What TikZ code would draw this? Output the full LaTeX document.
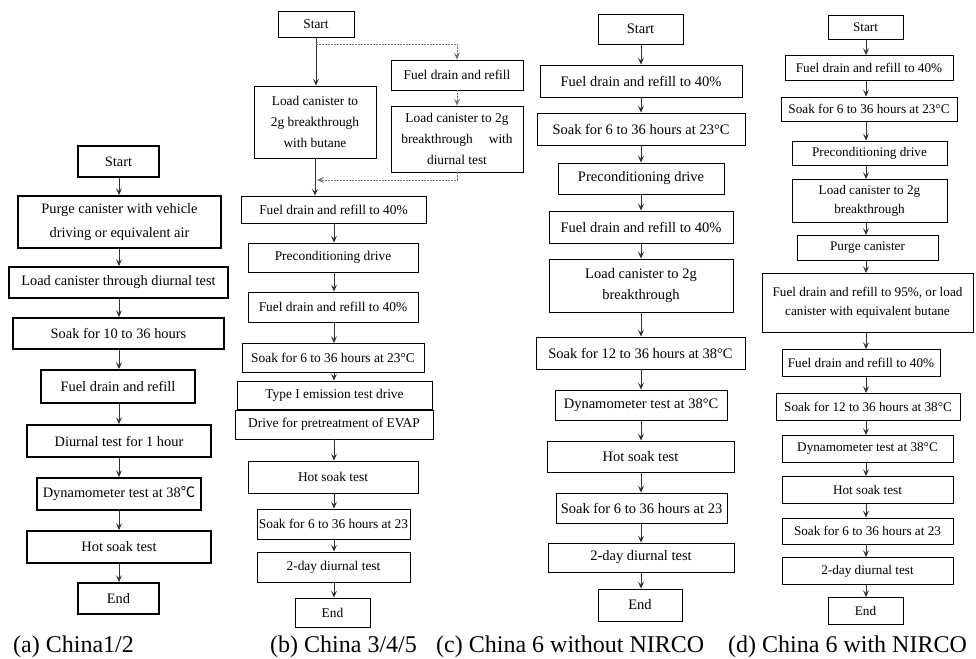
\documentclass[tikz,border=0pt]{standalone}
\usepackage{fontspec}
\setmainfont{Liberation Serif}
\newfontfamily\cjk{Noto Sans CJK SC}
\usetikzlibrary{arrows.meta}
\begin{document}
\begin{tikzpicture}[x=1pt,y=-1pt,
  box/.style={draw, line width=0.8pt, inner sep=0pt, align=center},
  thk/.style={line width=1.8pt},
  fa/.style={font=\fontsize{14.4}{24}\selectfont},
  fb/.style={font=\fontsize{13.4}{21}\selectfont},
  fc/.style={font=\fontsize{14.5}{21}\selectfont},
  fd/.style={font=\fontsize{13.2}{19.5}\selectfont},
  arr/.style={-{Stealth[length=7pt,width=6pt,inset=3pt]}, line width=0.8pt, draw=black!80},
  dsh/.style={-{Stealth[length=7pt,width=6pt,inset=3pt]}, dash pattern=on 2pt off 1pt, line width=0.8pt, draw=black!55},
  capt/.style={font=\fontsize{24}{28}\selectfont, anchor=base west, inner sep=0pt}
]
\useasboundingbox (0,0) rectangle (976,658);

% ---------- (a) ----------
\coordinate (ax) at (119,0);
\node[box,fa,thk,minimum width=81pt,minimum height=31pt] (aS) at (118.5,161.5) {Start};
\node[box,fa,thk,minimum width=203pt,minimum height=52pt] (a1) at (119.5,222) {Purge canister with vehicle\\driving or equivalent air};
\node[box,fa,thk,minimum width=219pt,minimum height=31pt] (a2) at (118.5,282.5) {Load canister through diurnal test};
\node[box,fa,thk,minimum width=211pt,minimum height=31pt] (a3) at (118.5,333.5) {Soak for 10 to 36 hours};
\node[box,fa,thk,minimum width=154pt,minimum height=33pt] (a4) at (118,386.5) {Fuel drain and refill};
\node[box,fa,thk,minimum width=184pt,minimum height=32pt] (a5) at (119,441) {Diurnal test for 1 hour};
\node[box,fa,thk,minimum width=164pt,minimum height=32pt] (a6) at (119,494) {Dynamometer test at 38{\cjk ℃}};
\node[box,fa,thk,minimum width=184pt,minimum height=32pt] (a7) at (119,547) {Hot soak test};
\node[box,fa,thk,minimum width=81pt,minimum height=31pt] (aE) at (118.5,598.5) {End};
\foreach \u/\v in {aS/a1,a1/a2,a2/a3,a3/a4,a4/a5,a5/a6,a6/a7,a7/aE}
  \draw[arr] (\u.south -| ax) -- (\v.north -| ax);

% ---------- (b) ----------
\coordinate (bx) at (334,0);
\node[box,fb,minimum width=76pt,minimum height=26pt] (bS) at (316,24) {Start};
\node[box,fb,minimum width=122pt,minimum height=72pt] (bL) at (315,122) {Load canister to\\2g breakthrough\\with butane};
\node[box,fb,minimum width=132pt,minimum height=30pt] (bR1) at (457,75) {Fuel drain and refill};
\node[box,fb,minimum width=132pt,minimum height=66pt] (bR2) at (457,139) {Load canister to 2g\\breakthrough\hspace{1.2em}with\\diurnal test};
\node[box,fb,minimum width=185pt,minimum height=27pt] (b1) at (333.5,209.5) {Fuel drain and refill to 40\%};
\node[box,fb,minimum width=170pt,minimum height=29pt] (b2) at (333,257.5) {Preconditioning drive};
\node[box,fb,minimum width=170pt,minimum height=30pt] (b3) at (333,307) {Fuel drain and refill to 40\%};
\node[box,fb,minimum width=182pt,minimum height=29pt] (b4) at (333,358) {Soak for 6 to 36 hours at 23°C};
\node[box,fb,minimum width=195pt,minimum height=28pt] (b5) at (334.5,395) {Type I emission test drive};
\node[box,fb,minimum width=198pt,minimum height=29pt] (b6) at (334,424.5) {Drive for pretreatment of EVAP};
\node[box,fb,minimum width=170pt,minimum height=32pt] (b7) at (333,477) {Hot soak test};
\node[box,fb,minimum width=153pt,minimum height=30pt] (b8) at (333.5,524) {Soak for 6 to 36 hours at 23};
\node[box,fb,minimum width=153pt,minimum height=30pt] (b9) at (333.5,567) {2-day diurnal test};
\node[box,fb,minimum width=75pt,minimum height=29pt] (bE) at (332.5,612.5) {End};
\draw[arr] (bS.south) -- (bS.south |- bL.north);
\draw[arr] (bL.south) -- (bL.south |- b1.north);
\foreach \u/\v in {b1/b2,b2/b3,b3/b4,b4/b5,b6/b7,b7/b8,b8/b9,b9/bE}
  \draw[arr] (\u.south -| bx) -- (\v.north -| bx);
\coordinate (dA) at (316,44);
\coordinate (dB) at (317,180);
\draw[dsh] (dA) -| (bR1.north);
\draw[dsh] (bR1.south) -- (bR2.north);
\draw[dsh] (bR2.south) |- (dB);

% ---------- (c) ----------
\coordinate (cx) at (641,0);
\node[box,fc,minimum width=85pt,minimum height=30pt] (cS) at (640.5,29) {Start};
\node[box,fc,minimum width=202pt,minimum height=32pt] (c1) at (641,81) {Fuel drain and refill to 40\%};
\node[box,fc,minimum width=208pt,minimum height=32pt] (c2) at (641,129) {Soak for 6 to 36 hours at 23°C};
\node[box,fc,minimum width=166pt,minimum height=31pt] (c3) at (641,178.5) {Preconditioning drive};
\node[box,fc,minimum width=184pt,minimum height=32pt] (c4) at (641,227) {Fuel drain and refill to 40\%};
\node[box,fc,minimum width=184pt,minimum height=53pt] (c5) at (641,285.5) {Load canister to 2g\\breakthrough};
\node[box,fc,minimum width=209pt,minimum height=32pt] (c6) at (640.5,353) {Soak for 12 to 36 hours at 38°C};
\node[box,fc,minimum width=172pt,minimum height=30pt] (c7) at (641,405) {Dynamometer test at 38°C};
\node[box,fc,minimum width=187pt,minimum height=31pt] (c8) at (640.5,456.5) {Hot soak test};
\node[box,fc,minimum width=171pt,minimum height=30pt] (c9) at (641.5,508) {Soak for 6 to 36 hours at 23};
\node[box,fc,minimum width=186pt,minimum height=29pt] (c10) at (641,557.5) {2-day diurnal test};
\node[box,fc,minimum width=84pt,minimum height=32pt] (cE) at (640,605) {End};
\foreach \u/\v in {cS/c1,c1/c2,c2/c3,c3/c4,c4/c5,c5/c6,c6/c7,c7/c8,c8/c9,c9/c10,c10/cE}
  \draw[arr] (\u.south -| cx) -- (\v.north -| cx);

% ---------- (d) ----------
\coordinate (dx) at (866,0);
\node[box,fd,minimum width=75pt,minimum height=24pt] (dS) at (865.5,27) {Start};
\node[box,fd,minimum width=168pt,minimum height=25pt] (d1) at (869,68) {Fuel drain and refill to 40\%};
\node[box,fd,minimum width=176pt,minimum height=24pt] (d2) at (869,109) {Soak for 6 to 36 hours at 23°C};
\node[box,fd,minimum width=155pt,minimum height=24pt] (d3) at (869.5,153) {Preconditioning drive};
\node[box,fd,minimum width=155pt,minimum height=43pt] (d4) at (869.5,201) {Load canister to 2g\\breakthrough};
\node[box,fd,minimum width=141pt,minimum height=25pt] (d5) at (867.5,248) {Purge canister};
\node[box,fd,minimum width=211pt,minimum height=59pt] (d6) at (867.5,303) {Fuel drain and refill to 95\%, or load\\canister with equivalent butane};
\node[box,fd,minimum width=158pt,minimum height=27pt] (d7) at (861,363) {Fuel drain and refill to 40\%};
\node[box,fd,minimum width=184pt,minimum height=27pt] (d8) at (868,407) {Soak for 12 to 36 hours at 38°C};
\node[box,fd,minimum width=171pt,minimum height=27pt] (d9) at (867.5,449) {Dynamometer test at 38°C};
\node[box,fd,minimum width=171pt,minimum height=27pt] (d10) at (867.5,490) {Hot soak test};
\node[box,fd,minimum width=171pt,minimum height=26pt] (d11) at (867.5,531) {Soak for 6 to 36 hours at 23};
\node[box,fd,minimum width=171pt,minimum height=27pt] (d12) at (867.5,571) {2-day diurnal test};
\node[box,fd,minimum width=75pt,minimum height=27pt] (dE) at (865.5,611) {End};
\foreach \u/\v in {dS/d1,d1/d2,d2/d3,d3/d4,d4/d5,d5/d6,d6/d7,d7/d8,d8/d9,d9/d10,d10/d11,d11/d12,d12/dE}
  \draw[arr] (\u.south -| dx) -- (\v.north -| dx);

% ---------- captions ----------
\node[capt] (capA) at (13,652) {(a) China1/2};
\node[capt] (capB) at (270,652) {(b) China 3/4/5};
\node[capt] (capC) at (436,652) {(c) China 6 without NIRCO};
\node[capt] (capD) at (728,652) {(d) China 6 with NIRCO};
\end{tikzpicture}
\end{document}
